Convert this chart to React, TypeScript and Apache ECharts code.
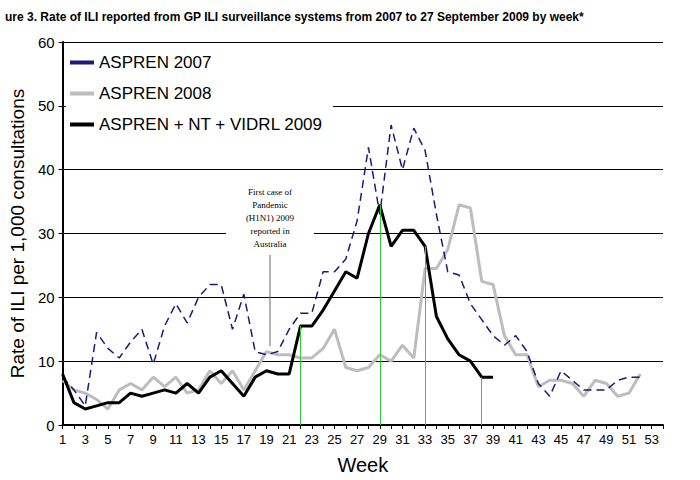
import React, { useEffect, useRef } from 'react';
import * as echarts from 'echarts';

const weeks = Array.from({ length: 53 }, (_, i) => String(i + 1));

const aspren2007 = [7.5, 5.5, 3, 14.5, 12, 10.5, 13, 15, 9.5, 15.5, 19, 16, 20, 22, 22, 15, 20.5, 11.5, 11, 11.5, 15, 17.5, 17.5, 24, 24, 26, 32, 43.5, 33, 47, 40, 46.5, 43, 33, 24, 23.5, 19, 16.5, 14, 12.5, 14, 11.5, 6.5, 4.5, 8.5, 7, 5.5, 5.5, 5.5, 7, 7.5, 7.5];
const aspren2008 = [7, 5.5, 5, 4, 2.5, 5.5, 6.5, 5.5, 7.5, 6, 7.5, 5, 5.5, 8.5, 6.5, 8.5, 5.5, 8.5, 11.5, 11, 11, 10.5, 10.5, 12, 15, 9, 8.5, 9, 11, 10, 12.5, 10.5, 24.5, 24.5, 27.5, 34.5, 34, 22.5, 22, 14, 11, 11, 6, 7, 7, 6.5, 4.5, 7, 6.5, 4.5, 5, 8];
const aspren2009 = [8, 3.5, 2.5, 3, 3.5, 3.5, 5, 4.5, 5, 5.5, 5, 6.5, 5, 7.5, 8.5, 6.5, 4.5, 7.5, 8.5, 8, 8, 15.5, 15.5, 18, 21, 24, 23, 30, 34.5, 28, 30.5, 30.5, 28, 17, 13.5, 11, 10, 7.5, 7.5];
const markerWeeks = [22, 29, 33, 38];

export default function App() {
  const ref = useRef<HTMLDivElement>(null);

  useEffect(() => {
    document.body.style.margin = '0';
    if (!ref.current) return;
    const chart = echarts.init(ref.current, undefined, { renderer: 'svg' });
    const font = 'Arial, "Liberation Sans", sans-serif';

    chart.setOption({
      animation: false,
      backgroundColor: '#fff',
      textStyle: { fontFamily: font },
      title: {
        text: 'ure 3. Rate of ILI reported from GP ILI surveillance systems from 2007 to 27 September 2009 by week*',
        left: 0,
        top: 6,
        textStyle: { fontSize: 12, fontWeight: 'bold', color: '#000', fontFamily: font },
      },
      legend: {
        left: 66,
        top: 50,
        orient: 'vertical',
        itemGap: 14,
        itemWidth: 24,
        itemHeight: 4,
        backgroundColor: '#fff',
        padding: [4, 10, 4, 4],
        textStyle: { fontSize: 17, color: '#000', fontFamily: font },
        data: [
          { name: 'ASPREN 2007', icon: 'rect' },
          { name: 'ASPREN 2008', icon: 'rect' },
          { name: 'ASPREN + NT + VIDRL 2009', icon: 'rect' },
        ],
      },
      grid: { left: 62, right: 37, top: 42, bottom: 53 },
      xAxis: {
        type: 'category',
        data: weeks.concat(['']),
        boundaryGap: false,
        name: 'Week',
        nameLocation: 'middle',
        nameGap: 30,
        nameTextStyle: { fontSize: 20, color: '#000' },
        axisLine: { lineStyle: { color: '#000', width: 2 } },
        axisTick: { inside: false, length: 4, lineStyle: { color: '#000' }, interval: 0 },
        axisLabel: { interval: 1, fontSize: 13, color: '#000' },
      },
      yAxis: {
        type: 'value',
        min: 0,
        max: 60,
        interval: 10,
        name: 'Rate of ILI per 1,000 consultations',
        nameLocation: 'middle',
        nameGap: 32,
        nameTextStyle: { fontSize: 19, color: '#000' },
        axisLine: { show: true, lineStyle: { color: '#000', width: 2 } },
        axisTick: { show: true, length: 4, lineStyle: { color: '#000' } },
        axisLabel: { fontSize: 15, color: '#000' },
        splitLine: { lineStyle: { color: '#000', width: 1 } },
      },
      series: [
        {
          name: 'ASPREN 2007',
          type: 'line',
          data: aspren2007,
          symbol: 'none',
          z: 3,
          lineStyle: { color: '#1a1a7a', width: 1.5, type: [8, 5] },
          itemStyle: { color: '#1a1a7a' },
        },
        {
          name: 'ASPREN 2008',
          type: 'line',
          data: aspren2008,
          symbol: 'none',
          z: 2,
          lineStyle: { color: '#bdbdbd', width: 3 },
          itemStyle: { color: '#bdbdbd' },
        },
        {
          name: 'ASPREN + NT + VIDRL 2009',
          type: 'line',
          data: aspren2009,
          symbol: 'none',
          z: 4,
          lineStyle: { color: '#000', width: 3 },
          itemStyle: { color: '#000' },
          markLine: {
            silent: true,
            symbol: 'none',
            label: { show: false },
            lineStyle: { color: '#33cc33', width: 1, type: 'solid' },
            data: markerWeeks.map((w) => [
              { coord: [String(w), 0] },
              { coord: [String(w), aspren2009[w - 1]] },
            ]),
          },
        },
      ],
      graphic: [
        {
          type: 'rect',
          shape: { x: 226, y: 180, width: 88, height: 70 },
          style: { fill: '#fff' },
          z: 10,
        },
        {
          type: 'text',
          x: 270,
          y: 185,
          z: 11,
          style: {
            text: 'First case of\nPandemic\n(H1N1) 2009\nreported in\nAustralia',
            font: '9px "Liberation Serif", "DejaVu Serif", serif',
            fill: '#000',
            align: 'center',
            lineHeight: 13,
          },
        },
        {
          type: 'line',
          shape: { x1: 270, y1: 255, x2: 270, y2: 346 },
          style: { stroke: '#666', lineWidth: 1 },
          z: 11,
        },
      ],
    });

    return () => chart.dispose();
  }, []);

  return <div ref={ref} style={{ width: 700, height: 480 }} />;
}
